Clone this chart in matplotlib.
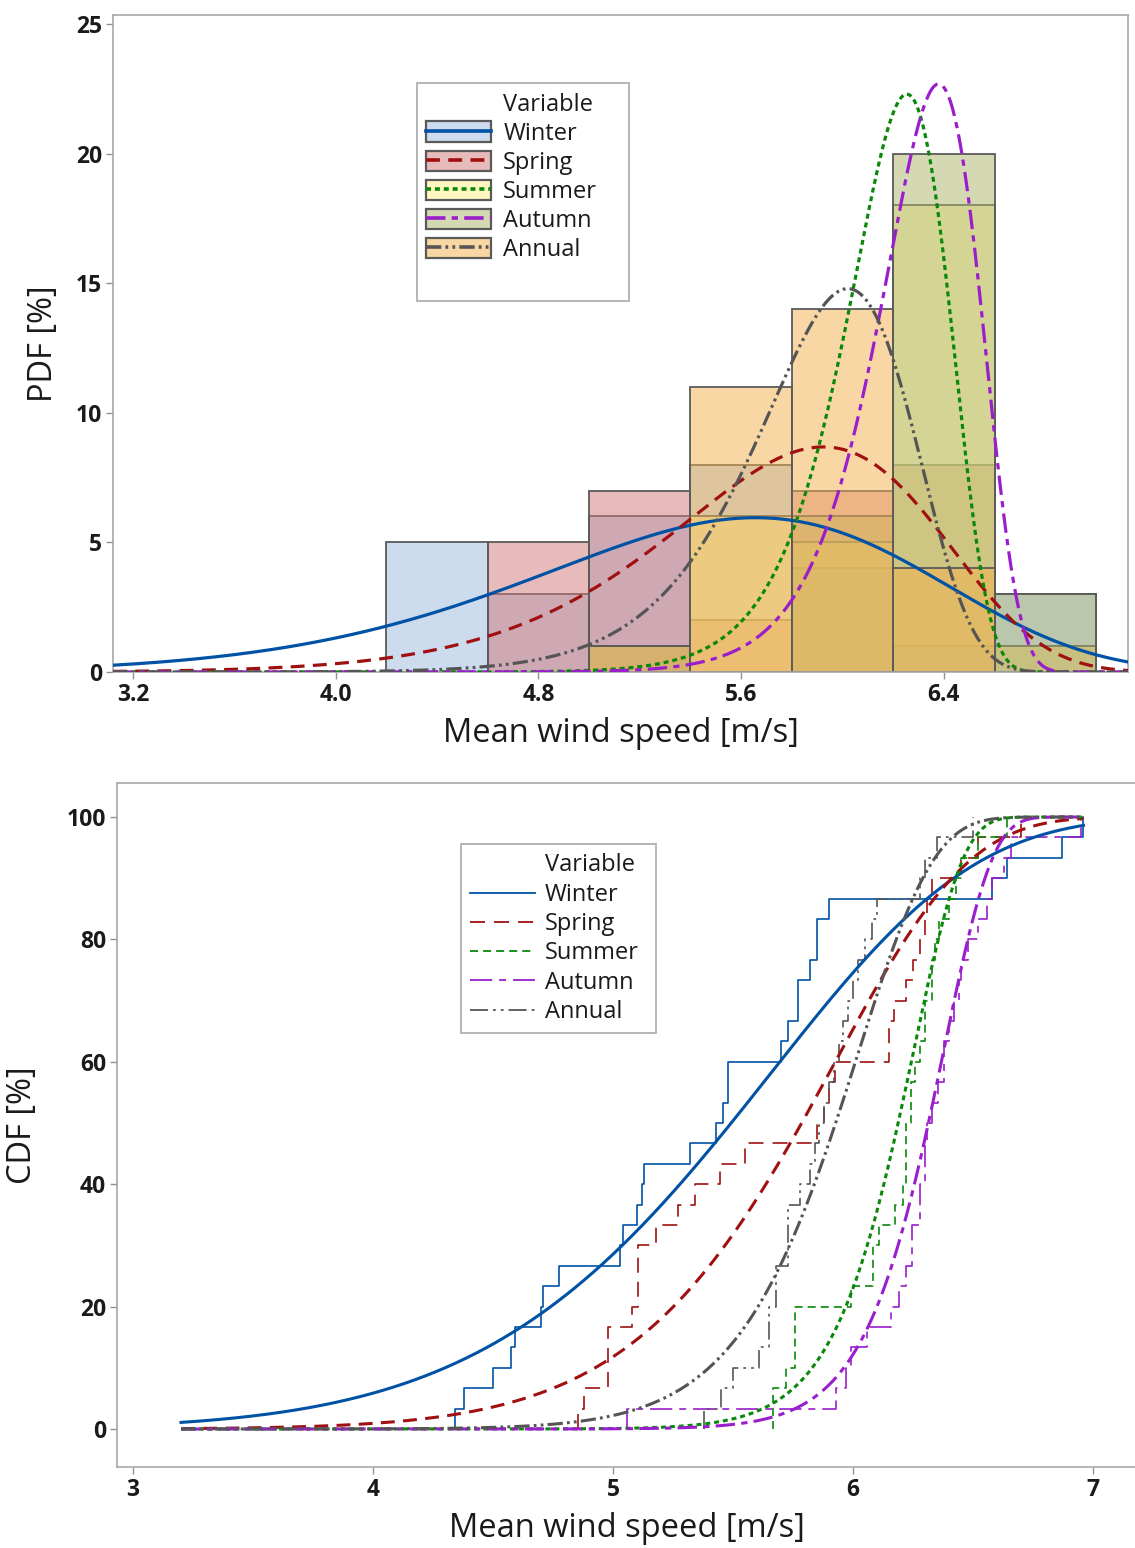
import numpy as np
import matplotlib
matplotlib.use("Agg")
import matplotlib.pyplot as plt
from matplotlib.patches import Rectangle
from matplotlib.lines import Line2D
from matplotlib.legend_handler import HandlerTuple
from matplotlib.colors import to_rgba

plt.rcParams['font.family'] = ['Open Sans', 'DejaVu Sans']
plt.rcParams['lines.scale_dashes'] = False

# ---------------- data (30 yearly means per series, read from the ECDF steps) ----------------
seasons = ["Winter", "Spring", "Summer", "Autumn", "Annual"]
winter = [4.34, 4.38, 4.50, 4.575, 4.59, 4.70, 4.71, 4.775, 5.03, 5.04, 5.10, 5.12, 5.13, 5.32,
          5.43, 5.46, 5.48, 5.48, 5.70, 5.73, 5.77, 5.77, 5.82, 5.85, 5.85, 5.90, 6.58, 6.64, 6.87, 6.96]
spring = [4.855, 4.88, 4.98, 4.98, 4.98, 5.08, 5.105, 5.105, 5.105, 5.18, 5.27, 5.34, 5.445, 5.55,
          5.85, 5.88, 5.90, 5.925, 6.15, 6.15, 6.17, 6.22, 6.25, 6.28, 6.30, 6.31, 6.33, 6.45, 6.52, 6.70]
summer = [5.665, 5.665, 5.72, 5.76, 5.76, 5.76, 5.99, 6.085, 6.085, 6.11, 6.175, 6.21, 6.22, 6.22,
          6.22, 6.24, 6.24, 6.26, 6.28, 6.30, 6.30, 6.33, 6.33, 6.34, 6.36, 6.40, 6.43, 6.45, 6.52, 6.64]
autumn = [5.06, 5.93, 5.97, 5.99, 6.06, 6.16, 6.19, 6.22, 6.245, 6.245, 6.28, 6.28, 6.30, 6.30,
          6.31, 6.33, 6.355, 6.38, 6.38, 6.40, 6.42, 6.44, 6.45, 6.48, 6.52, 6.56, 6.58, 6.63, 6.66, 6.95]
annual = [5.38, 5.45, 5.50, 5.61, 5.65, 5.65, 5.68, 5.68, 5.73, 5.73, 5.73, 5.78, 5.82, 5.84, 5.86,
          5.88, 5.90, 5.92, 5.94, 5.96, 5.98, 6.00, 6.02, 6.05, 6.08, 6.10, 6.28, 6.30, 6.35, 6.50]
series = [winter, spring, summer, autumn, annual]

bin_edges = [4.2, 4.6, 5.0, 5.4, 5.8, 6.2, 6.6, 7.0]

# fitted Weibull distributions (shape, scale)
weibull_shape = [7.7, 11.7, 31.6, 32.8, 20.2]
weibull_scale = [5.76, 5.97, 6.26, 6.385, 6.036]
cdf_fit_range = [3.2, 6.96]

pdf_xticks = [3.2, 4.0, 4.8, 5.6, 6.4]
pdf_yticks = [0, 5, 10, 15, 20, 25]
cdf_xticks = [3, 4, 5, 6, 7]
cdf_yticks = [0, 20, 40, 60, 80, 100]

# ---------------- styles ----------------
line_colors = ["#0052a5", "#a01010", "#0a880a", "#9a1ecc", "#555555"]
fill_colors = ["#9bb9df", "#d17979", "#fff181", "#abb56b", "#f3b14d"]
thick_styles = ['-', (0, (10, 6)), (0, (3.6, 2.8)), (0, (14, 4.5, 4.5, 4.5)),
                (0, (11, 3, 2, 3, 2, 3))]
thin_styles = ['-', (0, (10.8, 6.5)), (0, (5.8, 3.6)), (0, (16, 5, 5, 5)),
               (0, (13, 3.6, 2, 3.6, 2, 3.6))]
edge_color = '#5a5a5a'
spine_color = '#a8a8a8'
text_color = '#1a1a1a'
label_size = 23.5
tick_size = 16.5
legend_size = 17

W, H = 1135, 1548
fig = plt.figure(figsize=(W / 100, H / 100), dpi=100)

# ================= top: histograms + fitted PDFs =================
ax1 = fig.add_axes([113 / W, 1 - 672 / H, 1015 / W, 657 / H])
x1min, x1max = 3.121, 7.1266
for data, fc in zip(series, fill_colors):
    _, _, patches = ax1.hist(data, bins=bin_edges, zorder=2)
    for p in patches:
        p.set_facecolor(to_rgba(fc, 0.5))
        p.set_edgecolor(edge_color)
        p.set_linewidth(1.3)

xs = np.linspace(x1min, x1max, 800)
bw = bin_edges[1] - bin_edges[0]
for data, k, lam, col, ls in zip(series, weibull_shape, weibull_scale, line_colors, thick_styles):
    pdf = (k / lam) * (xs / lam) ** (k - 1) * np.exp(-(xs / lam) ** k)
    ax1.plot(xs, len(data) * bw * pdf, color=col, lw=2.3, linestyle=ls, zorder=3)

ax1.set_xlim(x1min, x1max)
ax1.set_ylim(0, 25.35)
ax1.set_xticks(pdf_xticks, labels=[f"{v:.1f}" for v in pdf_xticks], fontweight='bold')
ax1.set_yticks(pdf_yticks, labels=[str(v) for v in pdf_yticks], fontweight='bold')
ax1.set_xlabel("Mean wind speed [m/s]", fontsize=label_size, color=text_color, labelpad=7)
ax1.set_ylabel("PDF [%]", fontsize=label_size, color=text_color, labelpad=11)

# legend with fill swatch + line
h1 = [Line2D([], [], color='none')]
l1 = ['Variable']
for name, fc, col, ls in zip(seasons, fill_colors, line_colors, thick_styles):
    patch = Rectangle((0, 0), 1, 1, facecolor=to_rgba(fc, 0.5), edgecolor=edge_color, lw=1.6)
    line = Line2D([], [], color=col, lw=2.6, linestyle=ls)
    h1.append((patch, line))
    l1.append(name)
h1.append(Line2D([], [], color='none'))
l1.append(' ')
leg1 = ax1.legend(h1, l1, handler_map={tuple: HandlerTuple(ndivide=1, pad=0)},
                  loc='upper left', bbox_to_anchor=(0.2995, 0.8958, 0.2089, 0.001),
                  mode='expand', borderaxespad=0, fancybox=False, framealpha=1,
                  edgecolor='#b0b0b0', prop={'size': legend_size}, handlelength=2.75,
                  handleheight=0.95, handletextpad=0.5, labelspacing=0.205, borderpad=0.4)
leg1.get_frame().set_linewidth(1.3)
for t in leg1.get_texts():
    t.set_color(text_color)

# ================= bottom: ECDF + fitted CDFs =================
ax2 = fig.add_axes([117 / W, 1 - 1467 / H, 1020 / W, 684 / H])
for data, col, ls in zip(series, line_colors, thin_styles):
    s = np.sort(np.asarray(data))
    n = len(s)
    xe = np.concatenate([[s[0]], s])
    ye = np.concatenate([[0.0], np.arange(1, n + 1) / n * 100.0])
    ax2.plot(xe, ye, drawstyle='steps-post', color=col, lw=1.2, linestyle=ls, zorder=2)

xc = np.linspace(cdf_fit_range[0], cdf_fit_range[1], 800)
for k, lam, col, ls in zip(weibull_shape, weibull_scale, line_colors, thick_styles):
    ax2.plot(xc, 100 * (1 - np.exp(-(xc / lam) ** k)), color=col, lw=2.2, linestyle=ls, zorder=3)

ax2.set_xlim(2.9333, 7.183)
ax2.set_ylim(-6.21, 105.56)
ax2.set_xticks(cdf_xticks, labels=[str(v) for v in cdf_xticks], fontweight='bold')
ax2.set_yticks(cdf_yticks, labels=[str(v) for v in cdf_yticks], fontweight='bold')
ax2.set_xlabel("Mean wind speed [m/s]", fontsize=label_size, color=text_color, labelpad=7)
ax2.set_ylabel("CDF [%]", fontsize=label_size, color=text_color, labelpad=20)

h2 = [Line2D([], [], color='none')]
l2 = ['Variable']
for name, col, ls in zip(seasons, line_colors, thin_styles):
    h2.append(Line2D([], [], color=col, lw=1.3, linestyle=ls))
    l2.append(name)
leg2 = ax2.legend(h2, l2, loc='upper left', bbox_to_anchor=(0.3373, 0.9098, 0.1912, 0.001),
                  mode='expand', borderaxespad=0, fancybox=False, framealpha=1,
                  edgecolor='#b0b0b0', prop={'size': legend_size}, handlelength=2.75,
                  handletextpad=0.4, labelspacing=0.225, borderpad=0.4)
leg2.get_frame().set_linewidth(1.3)
for t in leg2.get_texts():
    t.set_color(text_color)

for ax in (ax1, ax2):
    for sp in ax.spines.values():
        sp.set_color(spine_color)
        sp.set_linewidth(1.2)
    ax.tick_params(axis='both', length=5, width=1.0, color='#909090',
                   labelsize=tick_size, labelcolor=text_color, pad=3)

fig.savefig("out.png", dpi=100)
